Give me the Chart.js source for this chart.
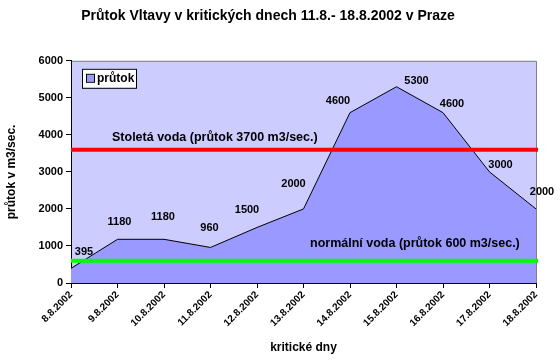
<!DOCTYPE html>
<html>
<head>
<meta charset="utf-8">
<script src="https://cdn.jsdelivr.net/npm/chart.js@4"></script>
<style>
  html, body { margin: 0; padding: 0; background: #fff; }
  canvas { display: block; }
</style>
</head>
<body>
<canvas id="flowChart" width="560" height="360"></canvas>
<script>
(function () {
  'use strict';

  const days = ['8.8.2002', '9.8.2002', '10.8.2002', '11.8.2002', '12.8.2002', '13.8.2002',
    '14.8.2002', '15.8.2002', '16.8.2002', '17.8.2002', '18.8.2002'];
  const flow = [395, 1180, 1180, 960, 1500, 2000, 4600, 5300, 4600, 3000, 2000];
  const yTicks = [0, 1000, 2000, 3000, 4000, 5000, 6000];
  const refValues = [3600, 600];
  const refTexts = ['Stoletá voda (průtok 3700 m3/sec.)', 'normální voda (průtok 600 m3/sec.)'];

  // label nudges relative to each point, like Excel placed them
  const labelNudge = [[13, -16], [2, -17], [-1, -22], [-1, -19], [-10, -17], [-10, -25],
    [-12, -12], [20, -6], [9, -9], [11, -7], [6, -17]];

  const FONT = '"Liberation Sans", Arial, sans-serif';
  const refColors = ['#ff0000', '#00ff00'];

  const plotBg = {
    id: 'plotBg',
    beforeDraw(chart) {
      const a = chart.chartArea;
      const ctx = chart.ctx;
      ctx.save();
      ctx.fillStyle = '#ccccff';
      ctx.fillRect(a.left, a.top, a.right - a.left, a.bottom - a.top);
      ctx.strokeStyle = '#808080';
      ctx.lineWidth = 1;
      ctx.beginPath();
      ctx.moveTo(a.left, a.top + 0.5);
      ctx.lineTo(a.right + 0.5, a.top + 0.5);
      ctx.lineTo(a.right + 0.5, a.bottom);
      ctx.stroke();
      ctx.restore();
    }
  };

  const overlay = {
    id: 'overlay',
    afterDatasetsDraw(chart) {
      const a = chart.chartArea;
      const y = chart.scales.y;
      const ctx = chart.ctx;
      ctx.save();

      // reference lines
      refValues.forEach(function (v, i) {
        const py = y.getPixelForValue(v);
        ctx.strokeStyle = refColors[i];
        ctx.lineWidth = 4;
        ctx.beginPath();
        ctx.moveTo(a.left, py);
        ctx.lineTo(a.right + 2, py);
        ctx.stroke();
      });

      ctx.fillStyle = '#000';
      ctx.font = 'bold 12.5px ' + FONT;
      ctx.textBaseline = 'middle';
      ctx.textAlign = 'left';
      ctx.fillText(refTexts[0], a.left + 41, y.getPixelForValue(refValues[0]) - 12);
      ctx.fillText(refTexts[1], a.left + 239, y.getPixelForValue(refValues[1]) - 17);

      // data labels
      ctx.font = 'bold 11px ' + FONT;
      ctx.textAlign = 'center';
      chart.getDatasetMeta(0).data.forEach(function (pt, i) {
        const n = labelNudge[i] || [0, -18];
        ctx.fillText(String(flow[i]), pt.x + n[0], pt.y + n[1]);
      });

      // legend box
      const lx = a.left + 11, ly = a.top + 8;
      ctx.fillStyle = '#fff';
      ctx.fillRect(lx, ly, 54, 19);
      ctx.strokeStyle = '#000';
      ctx.lineWidth = 1;
      ctx.strokeRect(lx + 0.5, ly + 0.5, 54, 19);
      ctx.fillStyle = '#9999ff';
      ctx.fillRect(lx + 5, ly + 6, 7, 7);
      ctx.strokeRect(lx + 4.5, ly + 5.5, 8, 8);
      ctx.fillStyle = '#000';
      ctx.textAlign = 'left';
      ctx.font = 'bold 12px ' + FONT;
      ctx.fillText('průtok', lx + 15, ly + 10);

      ctx.restore();
    }
  };

  new Chart(document.getElementById('flowChart'), {
    type: 'line',
    data: {
      labels: days,
      datasets: [{
        label: 'průtok',
        data: flow,
        fill: 'origin',
        backgroundColor: '#9999ff',
        borderColor: '#000',
        borderWidth: 1,
        tension: 0,
        pointRadius: 0,
      }],
    },
    options: {
      responsive: false,
      animation: false,
      layout: { padding: { left: 0, right: 24, top: 0, bottom: 0 } },
      plugins: {
        legend: { display: false },
        tooltip: { enabled: false },
        title: {
          display: true,
          text: 'Průtok Vltavy v kritických dnech 11.8.- 18.8.2002 v Praze',
          color: '#000',
          font: { family: FONT, size: 14, weight: 'bold' },
          padding: { top: 8, bottom: 36 },
        },
      },
      scales: {
        x: {
          offset: false,
          afterFit(scale) { scale.height = 77; },
          grid: { drawOnChartArea: false, tickLength: 5, color: '#000' },
          border: { display: true, color: '#000', width: 1 },
          ticks: {
            autoSkip: false,
            minRotation: 45,
            maxRotation: 45,
            padding: 1,
            color: '#000',
            font: { family: FONT, size: 10, weight: 'bold' },
          },
          title: {
            display: true,
            text: 'kritické dny',
            color: '#000',
            font: { family: FONT, size: 12, weight: 'bold' },
            padding: { top: 0, bottom: 5 },
          },
        },
        y: {
          min: 0,
          max: 6000,
          afterFit(scale) { scale.width = 71; },
          afterBuildTicks(scale) { scale.ticks = yTicks.map(function (v) { return { value: v }; }); },
          grid: { drawOnChartArea: false, tickLength: 5, color: '#000' },
          border: { display: true, color: '#000', width: 1 },
          ticks: {
            padding: 3,
            color: '#000',
            font: { family: FONT, size: 11, weight: 'bold' },
            callback: function (v) { return String(v); },
          },
          title: {
            display: true,
            text: 'průtok v m3/sec.',
            color: '#000',
            font: { family: FONT, size: 12, weight: 'bold' },
            padding: { top: 4, bottom: 0 },
          },
        },
      },
    },
    plugins: [plotBg, overlay],
  });
})();
</script>
</body>
</html>
